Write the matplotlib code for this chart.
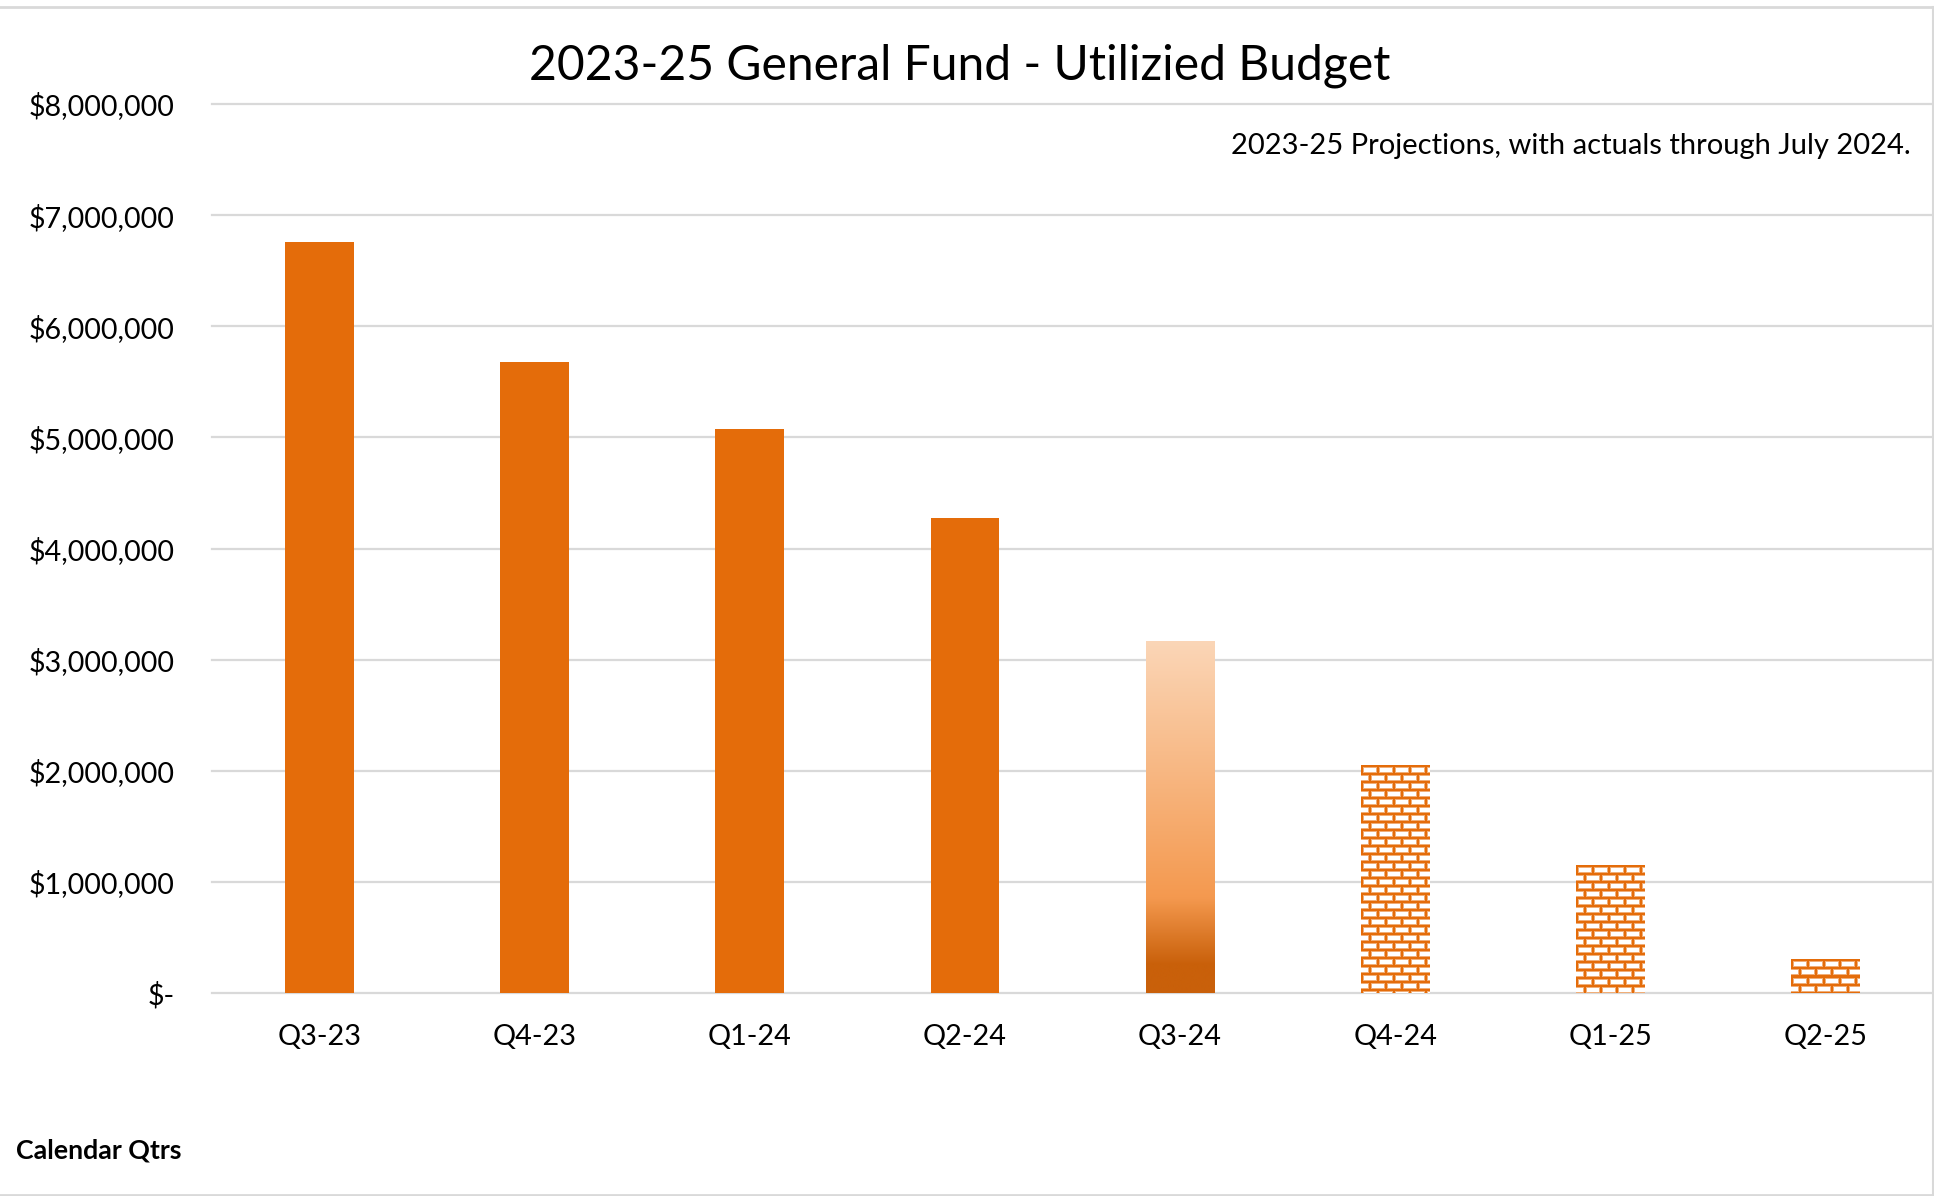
import numpy as np
import matplotlib
matplotlib.use("Agg")
import matplotlib.pyplot as plt
from matplotlib.lines import Line2D
from matplotlib.colors import to_rgb

# Quarterly utilized budget (actuals, partial-quarter actuals, projections)
quarters = ["Q3-23", "Q4-23", "Q1-24", "Q2-24", "Q3-24", "Q4-24", "Q1-25", "Q2-25"]
budget = [6760000, 5675000, 5075000, 4275000, 3160000, 2050000, 1150000, 300000]
status = ["actual", "actual", "actual", "actual", "partial",
          "projected", "projected", "projected"]
yticks = [0, 1000000, 2000000, 3000000, 4000000, 5000000, 6000000, 7000000, 8000000]

title = "2023-25 General Fund - Utilizied Budget"
subtitle = "2023-25 Projections, with actuals through July 2024."
xlabel = "Calendar Qtrs"

plt.rcParams["font.family"] = ["Lato", "DejaVu Sans"]

ORANGE = "#E46C0A"
GRID = "#D9D9D9"
TEXT = "#000000"

W, H = 1934, 1196
fig = plt.figure(figsize=(W / 100, H / 100), dpi=100)
fig.patch.set_facecolor("white")
ax = fig.add_axes([212 / W, 203 / H, 1721 / W, 889 / H])

x = np.arange(len(quarters))
bar_w = 0.32
bars = ax.bar(x, budget, width=bar_w, color=ORANGE, linewidth=0, zorder=2)

ax.set_xlim(-0.5, len(quarters) - 0.5)
ax.set_ylim(0, yticks[-1])
for s in ax.spines.values():
    s.set_visible(False)

ax.set_yticks(yticks)
ax.set_yticklabels(["$-" if v == 0 else f"${v:,.0f}" for v in yticks])
ax.set_xticks(x)
ax.set_xticklabels(quarters)
ax.tick_params(axis="y", length=0, pad=27, labelsize=20.7, labelcolor=TEXT)
ax.tick_params(axis="x", length=0, pad=22, labelsize=20.7, labelcolor=TEXT)
ax.yaxis.grid(True, color=GRID, linewidth=1.6, zorder=0)
ax.set_axisbelow(True)
for gl in ax.get_ygridlines():
    gl.set_clip_on(False)

fig.canvas.draw()


def bar_pixels(rect):
    x0, y0 = rect.get_x(), rect.get_y()
    x1, y1 = x0 + rect.get_width(), y0 + rect.get_height()
    p0 = ax.transData.transform((x0, y0))
    p1 = ax.transData.transform((x1, y1))
    return (x0, x1, y0, y1), int(round(p1[0] - p0[0])), int(round(p1[1] - p0[1]))


def gradient_fill(h):
    # light peach at the top, mid orange, then a dark band near the base
    t = np.linspace(0, 1, h)  # 0 = bottom, 1 = top
    dark = np.array([201, 96, 10]) / 255
    mid = np.array([244, 153, 79]) / 255
    light = np.array([251, 214, 183]) / 255
    out = np.empty((h, 3))
    for i, v in enumerate(t):
        if v < 0.08:
            c = dark
        elif v < 0.27:
            f = (v - 0.08) / 0.19
            c = dark * (1 - f) + mid * f
        else:
            f = (v - 0.27) / 0.73
            c = mid * (1 - f) + light * f
        out[i] = c
    return out[::-1][:, None, :]


def brick_fill(h, w, row=8, brick=16, mortar=2):
    o = np.array(to_rgb(ORANGE))
    arr = np.ones((h, w, 3))
    yy, xx = np.mgrid[0:h, 0:w]
    r = yy % row
    shift = ((yy // row) % 2) * (brick // 2)
    c = (xx + shift) % brick
    mask = (r < mortar) | (c < mortar)
    edge = (~mask) & ((r == mortar) | (c == mortar) | (r == row - 1) | (c == brick - 1))
    arr[edge] = 0.55 * o + 0.45
    arr[mask] = o
    return arr


for rect, kind in zip(bars, status):
    if kind == "actual":
        continue
    ext, pw, ph = bar_pixels(rect)
    rect.set_facecolor("none")
    if kind == "partial":
        img = gradient_fill(max(ph, 2))
        interp = "bilinear"
    else:
        img = brick_fill(max(ph, 1), max(pw, 1))
        interp = "nearest"
    ax.imshow(img, extent=ext, aspect="auto", interpolation=interp, zorder=2)

ax.set_xlim(-0.5, len(quarters) - 0.5)
ax.set_ylim(0, yticks[-1])

fig.text(960 / W, 1 - 66 / H, title, ha="center", va="center", fontsize=34.6, color=TEXT)
fig.text(1911 / W, 1 - 146 / H, subtitle, ha="right", va="center", fontsize=21, color=TEXT)
fig.text(16 / W, 1 - 1151 / H, xlabel, ha="left", va="center", fontsize=19.3,
         fontweight="bold", color=TEXT)

# chart frame (top, right and bottom edges)
fig.add_artist(Line2D([0, 1], [1 - 7 / H, 1 - 7 / H], transform=fig.transFigure, color=GRID, lw=2))
fig.add_artist(Line2D([1 - 1.5 / W, 1 - 1.5 / W], [1 / H, 1 - 7 / H], transform=fig.transFigure,
                      color=GRID, lw=1.5))
fig.add_artist(Line2D([0, 1], [1.5 / H, 1.5 / H], transform=fig.transFigure, color=GRID, lw=2))

fig.savefig("out.png", dpi=100, facecolor="white")
